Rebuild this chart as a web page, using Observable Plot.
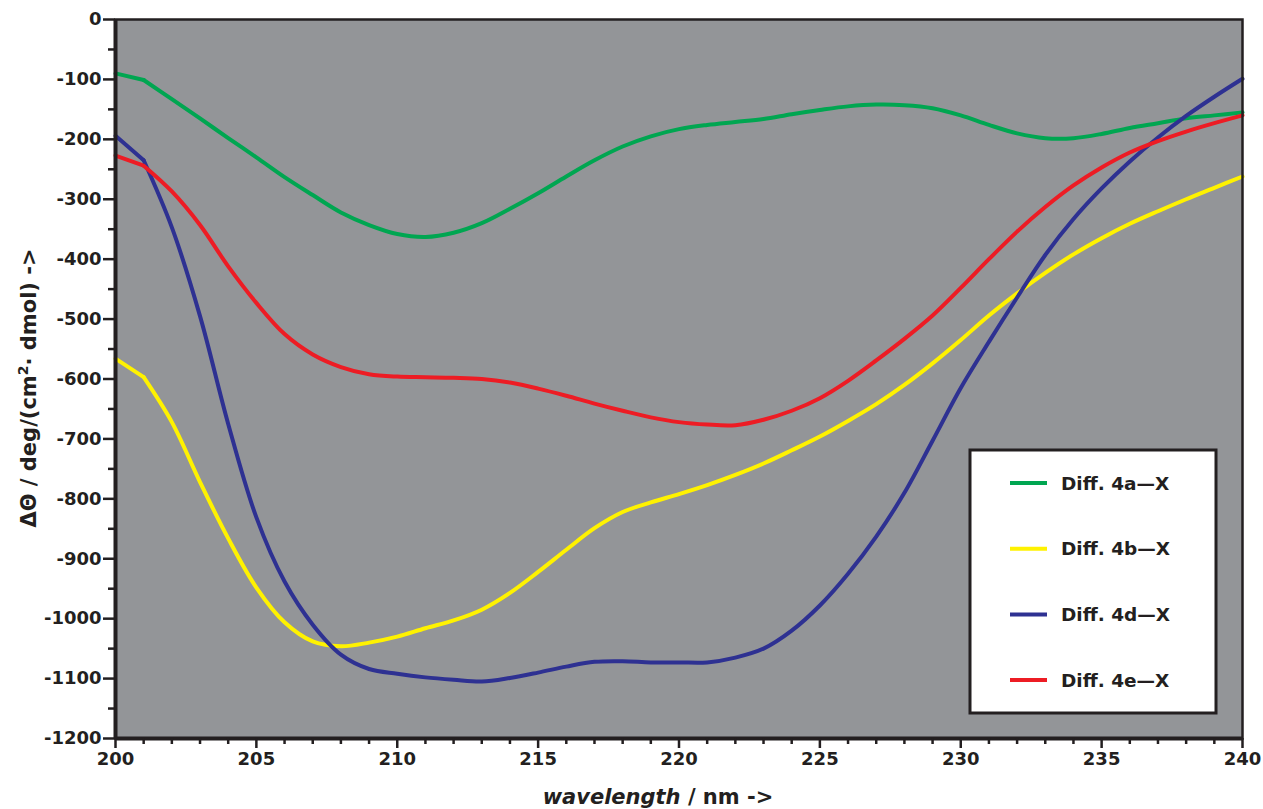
<!DOCTYPE html>
<html>
<head>
<meta charset="utf-8">
<script src="https://cdn.jsdelivr.net/npm/d3@7"></script>
<script src="https://cdn.jsdelivr.net/npm/@observablehq/plot@0.6"></script>
<style>
  html, body { margin: 0; padding: 0; background: #ffffff; }
  #chart svg { display: block; }
</style>
</head>
<body>
<div id="chart"></div>
<script>
// Wavelength grid (nm) and the four CD difference spectra (deg·cm²/dmol)
const wavelength = d3.range(200, 241, 1);
const diff4a = [-90,-101,-133,-165,-198,-230,-263,-293,-322,-343,-358,
  -363,-356,-340,-316,-290,-262,-235,-212,-195,-183,
  -176,-171,-166,-158,-151,-145,-142,-143,-148,-160,
  -176,-190,-198,-198,-191,-181,-173,-165,-160,-155];
const diff4b = [-566,-597,-672,-772,-866,-948,-1006,-1038,-1046,-1040,-1030,
  -1016,-1003,-985,-957,-922,-885,-849,-822,-806,-792,
  -777,-760,-741,-719,-696,-670,-642,-610,-574,-535,
  -494,-457,-423,-392,-365,-341,-320,-300,-281,-262];
const diff4d = [-194,-235,-347,-495,-675,-831,-938,-1010,-1060,-1084,-1092,
  -1098,-1102,-1105,-1099,-1090,-1080,-1072,-1071,-1073,-1073,
  -1073,-1065,-1050,-1020,-978,-925,-863,-790,-703,-615,
  -538,-464,-393,-333,-282,-237,-197,-161,-129,-99];
const diff4e = [-227,-244,-287,-343,-412,-473,-525,-559,-580,-592,-596,
  -597,-598,-600,-606,-616,-628,-641,-653,-664,-672,
  -676,-677,-668,-653,-632,-603,-569,-533,-494,-448,
  -400,-354,-313,-277,-247,-222,-203,-187,-173,-160];

const seriesNames = ["Diff. 4a\u2014X", "Diff. 4b\u2014X", "Diff. 4d\u2014X", "Diff. 4e\u2014X"];
const seriesColors = ["#00a651", "#fff200", "#2e3192", "#ed1c24"];
const seriesValues = [diff4a, diff4b, diff4d, diff4e];

const xMajor = d3.range(200, 241, 5);
const xMinor = d3.range(200, 241, 1).filter(d => d % 5 !== 0);
const yMajor = d3.range(-1200, 1, 100);
const yMinor = d3.range(-1150, 0, 100);

const rows = seriesNames.flatMap((name, i) =>
  wavelength.map((w, j) => ({series: name, wavelength: w, value: seriesValues[i][j]})));

// first step is drawn straight, the remainder as a smooth spline
const firstStep = rows.filter(d => d.wavelength <= 201);
const rest = rows.filter(d => d.wavelength >= 201);

const ink = "#231f20";
const font = "'DejaVu Sans', sans-serif";

const svg = Plot.plot({
  width: 1263,
  height: 809,
  marginLeft: 115,
  marginRight: 21,
  marginTop: 19,
  marginBottom: 71,
  style: {fontFamily: font, fontWeight: "bold", fontSize: "18px", color: ink, background: "#ffffff"},
  x: {domain: [200, 240]},
  y: {domain: [-1200, 0]},
  color: {domain: seriesNames, range: seriesColors},
  marks: [
    Plot.frame({fill: "#939598"}),
    Plot.line(firstStep, {x: "wavelength", y: "value", z: "series", stroke: "series",
      strokeWidth: 4, curve: "linear"}),
    Plot.line(rest, {x: "wavelength", y: "value", z: "series", stroke: "series",
      strokeWidth: 4, curve: "catmull-rom"}),
    Plot.frame({stroke: ink, strokeWidth: 2.5}),
    Plot.ruleX([200], {stroke: ink, strokeWidth: 4}),
    Plot.ruleY([-1200], {stroke: ink, strokeWidth: 4}),
    Plot.axisY({ticks: yMajor, tickSize: 12, tickPadding: 2, tickFormat: d => String(d),
      label: null, strokeWidth: 2.5, fontSize: 18}),
    Plot.axisY({ticks: yMinor, tickSize: 7, text: null, label: null, strokeWidth: 2.5}),
    Plot.axisX({ticks: xMajor, tickSize: 10, tickPadding: 4, tickFormat: d => String(d),
      label: null, strokeWidth: 2.5, fontSize: 18}),
    Plot.axisX({ticks: xMinor, tickSize: 6, text: null, label: null, strokeWidth: 2.5})
  ]
});

document.getElementById("chart").appendChild(svg);

const root = d3.select(svg);

// Axis titles
const xTitle = root.append("text")
  .attr("x", 658).attr("y", 804)
  .attr("text-anchor", "middle")
  .attr("font-family", font).attr("font-weight", "bold").attr("font-size", 21)
  .attr("fill", ink);
xTitle.append("tspan").attr("font-style", "italic").text("wavelength");
xTitle.append("tspan").text(" / nm ->");

const yTitle = root.append("text")
  .attr("transform", "translate(36,388) rotate(-90)")
  .attr("text-anchor", "middle")
  .attr("font-family", font).attr("font-weight", "bold").attr("font-size", 21)
  .attr("fill", ink);
yTitle.append("tspan").text("\u0394\u0398 / deg/(cm");
yTitle.append("tspan").attr("font-size", 14).attr("dy", -8).text("2");
yTitle.append("tspan").attr("dy", 8).text("\u00b7 dmol) ->");

// Legend box
const legend = root.append("g").attr("text-anchor", "start");
legend.append("rect")
  .attr("x", 970).attr("y", 450).attr("width", 246).attr("height", 263)
  .attr("fill", "#ffffff").attr("stroke", ink).attr("stroke-width", 3);
seriesNames.forEach((name, i) => {
  const cy = 483 + i * 65.7;
  legend.append("line")
    .attr("x1", 1010).attr("x2", 1047).attr("y1", cy).attr("y2", cy)
    .attr("stroke", seriesColors[i]).attr("stroke-width", 4);
  legend.append("text")
    .attr("x", 1061).attr("y", cy).attr("dy", "0.36em")
    .attr("text-anchor", "start")
    .attr("font-family", font).attr("font-weight", "bold").attr("font-size", 18.5)
    .attr("fill", ink)
    .text(name);
});
</script>
</body>
</html>
